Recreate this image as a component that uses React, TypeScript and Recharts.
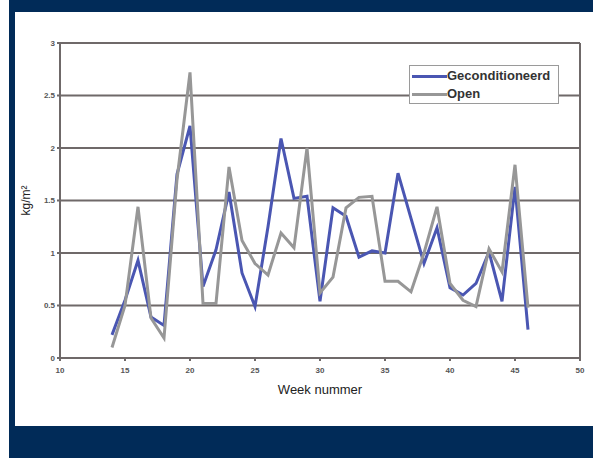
import React from 'react';
import { LineChart, Line, XAxis, YAxis, CartesianGrid, Legend, ReferenceLine } from 'recharts';

const weeks = [14, 15, 16, 17, 18, 19, 20, 21, 22, 23, 24, 25, 26, 27, 28, 29, 30, 31, 32, 33, 34, 35, 36, 37, 38, 39, 40, 41, 42, 43, 44, 45, 46];
const geconditioneerd = [0.22, 0.55, 0.93, 0.39, 0.31, 1.75, 2.21, 0.68, 1.03, 1.58, 0.81, 0.49, 1.25, 2.09, 1.52, 1.54, 0.54, 1.43, 1.35, 0.96, 1.02, 1.0, 1.76, 1.33, 0.9, 1.24, 0.67, 0.6, 0.71, 1.01, 0.54, 1.63, 0.27];
const open = [0.1, 0.5, 1.44, 0.38, 0.19, 1.7, 2.72, 0.52, 0.52, 1.82, 1.12, 0.9, 0.79, 1.19, 1.05, 2.0, 0.62, 0.77, 1.43, 1.53, 1.54, 0.73, 0.73, 0.63, 1.0, 1.44, 0.71, 0.55, 0.49, 1.04, 0.82, 1.84, 0.48];
const xTicks = [10, 15, 20, 25, 30, 35, 40, 45, 50];
const yTicks = [0, 0.5, 1, 1.5, 2, 2.5, 3];

const data = weeks.map((w, i) => ({ week: w, Geconditioneerd: geconditioneerd[i], Open: open[i] }));

const NAVY = '#012b58';
const BLUE = '#4a56b2';
const GRAY = '#979797';
const GRID = '#6f6969';

const tickStyle = { fontSize: 8, fontWeight: 700, fill: '#555', fontFamily: 'Liberation Sans, Arial, sans-serif' };

const LegendBox = (props: any) => {
  const payload = props.payload || [];
  return (
    <div style={{ width: 150, height: 39, boxSizing: 'border-box', border: '1px solid #9a9a9a', background: '#fff', padding: '1px 0 0 2px' }}>
      {payload.map((p: any) => (
        <div key={p.value} style={{ display: 'flex', alignItems: 'center', height: 18 }}>
          <div style={{ width: 35, height: 3, background: p.color }} />
          <span style={{ fontFamily: 'Liberation Sans, Arial, sans-serif', fontWeight: 700, fontSize: 13, color: '#333', lineHeight: '18px' }}>{p.value}</span>
        </div>
      ))}
    </div>
  );
};

export default function App() {
  return (
    <div style={{ position: 'absolute', left: 0, top: 0, width: 593, height: 458, background: '#fff', overflow: 'hidden' }}>
      <div style={{ position: 'absolute', left: 9, top: 0, width: 584, height: 458, background: NAVY }} />
      <div style={{ position: 'absolute', left: 15, top: 12, width: 578, height: 414, background: '#fff' }} />
      <div style={{ position: 'absolute', left: 0, top: 0 }}>
        <LineChart width={593} height={458} data={data} margin={{ top: 43, right: 13, bottom: 21, left: 0 }}>
          <CartesianGrid horizontal={true} vertical={false} stroke={GRID} strokeWidth={2} />
          <XAxis
            dataKey="week"
            type="number"
            domain={[10, 50]}
            ticks={xTicks}
            allowDataOverflow
            height={40}
            stroke={GRID}
            strokeWidth={2}
            tickSize={3}
            tickMargin={6}
            tick={tickStyle}
            label={{ value: 'Week nummer', position: 'insideBottom', offset: 4, style: { fontSize: 13, fill: '#222', fontFamily: 'Liberation Sans, Arial, sans-serif' } }}
          />
          <YAxis
            type="number"
            domain={[0, 3]}
            ticks={yTicks}
            width={60}
            stroke={GRID}
            strokeWidth={2}
            tickSize={3}
            tick={tickStyle}
            label={{ value: 'kg/m²', angle: -90, position: 'insideLeft', offset: 26, style: { fontSize: 12, fill: '#222', fontFamily: 'Liberation Sans, Arial, sans-serif', textAnchor: 'middle' } }}
          />
          <ReferenceLine x={50} stroke={GRID} strokeWidth={2} />
          <Legend
            content={<LegendBox />}
            wrapperStyle={{ position: 'absolute', left: 409, top: 65, width: 150, height: 39 }}
          />
          <Line type="linear" dataKey="Geconditioneerd" stroke={BLUE} strokeWidth={3} dot={false} isAnimationActive={false} />
          <Line type="linear" dataKey="Open" stroke={GRAY} strokeWidth={3} dot={false} isAnimationActive={false} />
        </LineChart>
      </div>
    </div>
  );
}
